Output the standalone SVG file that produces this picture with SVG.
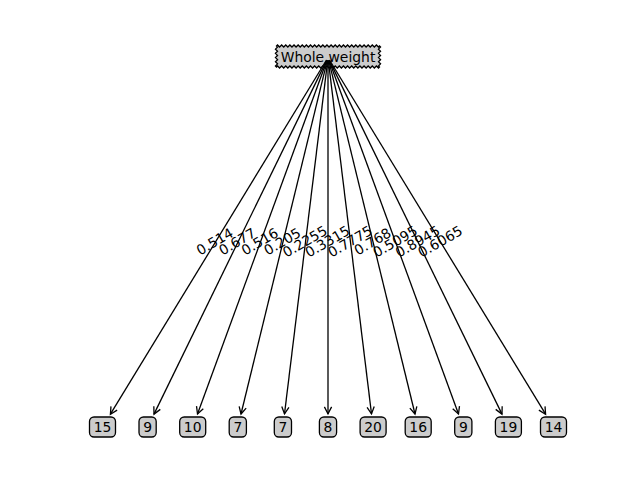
<svg xmlns="http://www.w3.org/2000/svg" width="640" height="480" viewBox="0 0 640 480">
  <style>
    text { font-family: "DejaVu Sans", "Liberation Sans", sans-serif; font-size: 13.9px; fill: #000; }
    .node text { text-anchor: middle; }
    .box { fill: #cccccc; stroke: #000; stroke-width: 1.3; }
    .edge { fill: none; stroke: #000; stroke-width: 1.3; marker-end: url(#head); }
    .lbl { text-anchor: middle; }
  </style>
  <defs>
    <!-- open "<-" style arrowhead -->
    <marker id="head" markerUnits="userSpaceOnUse" markerWidth="12" markerHeight="12" viewBox="-9 -6 12 12" refX="0" refY="0" orient="auto">
      <path d="M-7,-3.6 L0,0 L-7,3.6" fill="none" stroke="#000" stroke-width="1.3"/>
    </marker>
  </defs>
  <rect width="640" height="480" fill="#fff"/>

  <!-- root node, sawtooth frame -->
  <g id="node-root" class="node">
    <path class="box" d="M276.5,46 l1.03,-1.03
      l2.06,2.06 l2.06,-2.06 l2.06,2.06 l2.06,-2.06 l2.06,2.06 l2.06,-2.06 l2.06,2.06 l2.06,-2.06
      l2.06,2.06 l2.06,-2.06 l2.06,2.06 l2.06,-2.06 l2.06,2.06 l2.06,-2.06 l2.06,2.06 l2.06,-2.06
      l2.06,2.06 l2.06,-2.06 l2.06,2.06 l2.06,-2.06 l2.06,2.06 l2.06,-2.06 l2.06,2.06 l2.06,-2.06
      l2.06,2.06 l2.06,-2.06 l2.06,2.06 l2.06,-2.06 l2.06,2.06 l2.06,-2.06 l2.06,2.06 l2.06,-2.06
      l2.06,2.06 l2.06,-2.06 l2.06,2.06 l2.06,-2.06 l2.06,2.06 l2.06,-2.06 l2.06,2.06 l2.06,-2.06
      l2.06,2.06 l2.06,-2.06 l2.06,2.06 l2.06,-2.06 l2.06,2.06 l2.06,-2.06 l2.06,2.06 l2.06,-2.06
      l2.06,2.06 l1.03,-1.03
      l1.05,1.05 l-2.1,2.1 l2.1,2.1 l-2.1,2.1 l2.1,2.1 l-2.1,2.1 l2.1,2.1 l-2.1,2.1 l2.1,2.1 l-2.1,2.1 l1.05,1.05
      l-1.03,1.03
      l-2.06,-2.06 l-2.06,2.06 l-2.06,-2.06 l-2.06,2.06 l-2.06,-2.06 l-2.06,2.06 l-2.06,-2.06 l-2.06,2.06
      l-2.06,-2.06 l-2.06,2.06 l-2.06,-2.06 l-2.06,2.06 l-2.06,-2.06 l-2.06,2.06 l-2.06,-2.06 l-2.06,2.06
      l-2.06,-2.06 l-2.06,2.06 l-2.06,-2.06 l-2.06,2.06 l-2.06,-2.06 l-2.06,2.06 l-2.06,-2.06 l-2.06,2.06
      l-2.06,-2.06 l-2.06,2.06 l-2.06,-2.06 l-2.06,2.06 l-2.06,-2.06 l-2.06,2.06 l-2.06,-2.06 l-2.06,2.06
      l-2.06,-2.06 l-2.06,2.06 l-2.06,-2.06 l-2.06,2.06 l-2.06,-2.06 l-2.06,2.06 l-2.06,-2.06 l-2.06,2.06
      l-2.06,-2.06 l-2.06,2.06 l-2.06,-2.06 l-2.06,2.06 l-2.06,-2.06 l-2.06,2.06 l-2.06,-2.06 l-2.06,2.06
      l-2.06,-2.06 l-1.03,1.03
      l-1.05,-1.05 l2.1,-2.1 l-2.1,-2.1 l2.1,-2.1 l-2.1,-2.1 l2.1,-2.1 l-2.1,-2.1 l2.1,-2.1 l-2.1,-2.1 l2.1,-2.1 l-1.05,-1.05 Z"/>
    <text x="328" y="61.5">Whole weight</text>
  </g>

  <!-- connectors from the root to each leaf -->
  <g id="connectors">
    <line class="edge" x1="326.5" y1="60" x2="110.4" y2="414.2"/>
    <line class="edge" x1="326.8" y1="60.1" x2="154.0" y2="414.1"/>
    <line class="edge" x1="327.0" y1="60.2" x2="197.5" y2="414"/>
    <line class="edge" x1="327.3" y1="60.3" x2="241.0" y2="414"/>
    <line class="edge" x1="327.7" y1="60.4" x2="284.5" y2="413.9"/>
    <line class="edge" x1="328" y1="60.4" x2="328" y2="413.9"/>
    <line class="edge" x1="328.3" y1="60.4" x2="371.5" y2="413.9"/>
    <line class="edge" x1="328.7" y1="60.3" x2="415.0" y2="414"/>
    <line class="edge" x1="329.0" y1="60.2" x2="458.5" y2="414"/>
    <line class="edge" x1="329.2" y1="60.1" x2="502.0" y2="414.1"/>
    <line class="edge" x1="329.5" y1="60" x2="545.6" y2="414.2"/>
  </g>

  <!-- leaf nodes -->
  <g id="leaf-0" class="node"><rect class="box" x="89.5" y="417" width="26" height="20" rx="4.5"/><text x="102.5" y="431.6">15</text></g>
  <g id="leaf-1" class="node"><rect class="box" x="139" y="417" width="17.2" height="20" rx="4.5"/><text x="147.6" y="431.6">9</text></g>
  <g id="leaf-2" class="node"><rect class="box" x="179.7" y="417" width="26" height="20" rx="4.5"/><text x="192.7" y="431.6">10</text></g>
  <g id="leaf-3" class="node"><rect class="box" x="229.2" y="417" width="17.2" height="20" rx="4.5"/><text x="237.8" y="431.6">7</text></g>
  <g id="leaf-4" class="node"><rect class="box" x="274.3" y="417" width="17.2" height="20" rx="4.5"/><text x="282.9" y="431.6">7</text></g>
  <g id="leaf-5" class="node"><rect class="box" x="319.4" y="417" width="17.2" height="20" rx="4.5"/><text x="328" y="431.6">8</text></g>
  <g id="leaf-6" class="node"><rect class="box" x="360.1" y="417" width="26" height="20" rx="4.5"/><text x="373.1" y="431.6">20</text></g>
  <g id="leaf-7" class="node"><rect class="box" x="405.2" y="417" width="26" height="20" rx="4.5"/><text x="418.2" y="431.6">16</text></g>
  <g id="leaf-8" class="node"><rect class="box" x="454.7" y="417" width="17.2" height="20" rx="4.5"/><text x="463.3" y="431.6">9</text></g>
  <g id="leaf-9" class="node"><rect class="box" x="495.4" y="417" width="26" height="20" rx="4.5"/><text x="508.4" y="431.6">19</text></g>
  <g id="leaf-10" class="node"><rect class="box" x="540.5" y="417" width="26" height="20" rx="4.5"/><text x="553.5" y="431.6">14</text></g>

  <!-- edge values, rotated 30 degrees at each connector midpoint -->
  <g id="edge-labels">
    <text class="lbl" transform="translate(215.25,242.4) rotate(-30)" y="3.8">0.514</text>
    <text class="lbl" transform="translate(237.8,242.4) rotate(-30)" y="3.8">0.677</text>
    <text class="lbl" transform="translate(260.35,242.4) rotate(-30)" y="3.8">0.516</text>
    <text class="lbl" transform="translate(282.9,242.4) rotate(-30)" y="3.8">0.205</text>
    <text class="lbl" transform="translate(305.45,242.4) rotate(-30)" y="3.8">0.2255</text>
    <text class="lbl" transform="translate(328,242.4) rotate(-30)" y="3.8">0.3315</text>
    <text class="lbl" transform="translate(350.55,242.4) rotate(-30)" y="3.8">0.7775</text>
    <text class="lbl" transform="translate(373.1,242.4) rotate(-30)" y="3.8">0.768</text>
    <text class="lbl" transform="translate(395.65,242.4) rotate(-30)" y="3.8">0.5095</text>
    <text class="lbl" transform="translate(418.2,242.4) rotate(-30)" y="3.8">0.8945</text>
    <text class="lbl" transform="translate(440.75,242.4) rotate(-30)" y="3.8">0.6065</text>
  </g>
</svg>
